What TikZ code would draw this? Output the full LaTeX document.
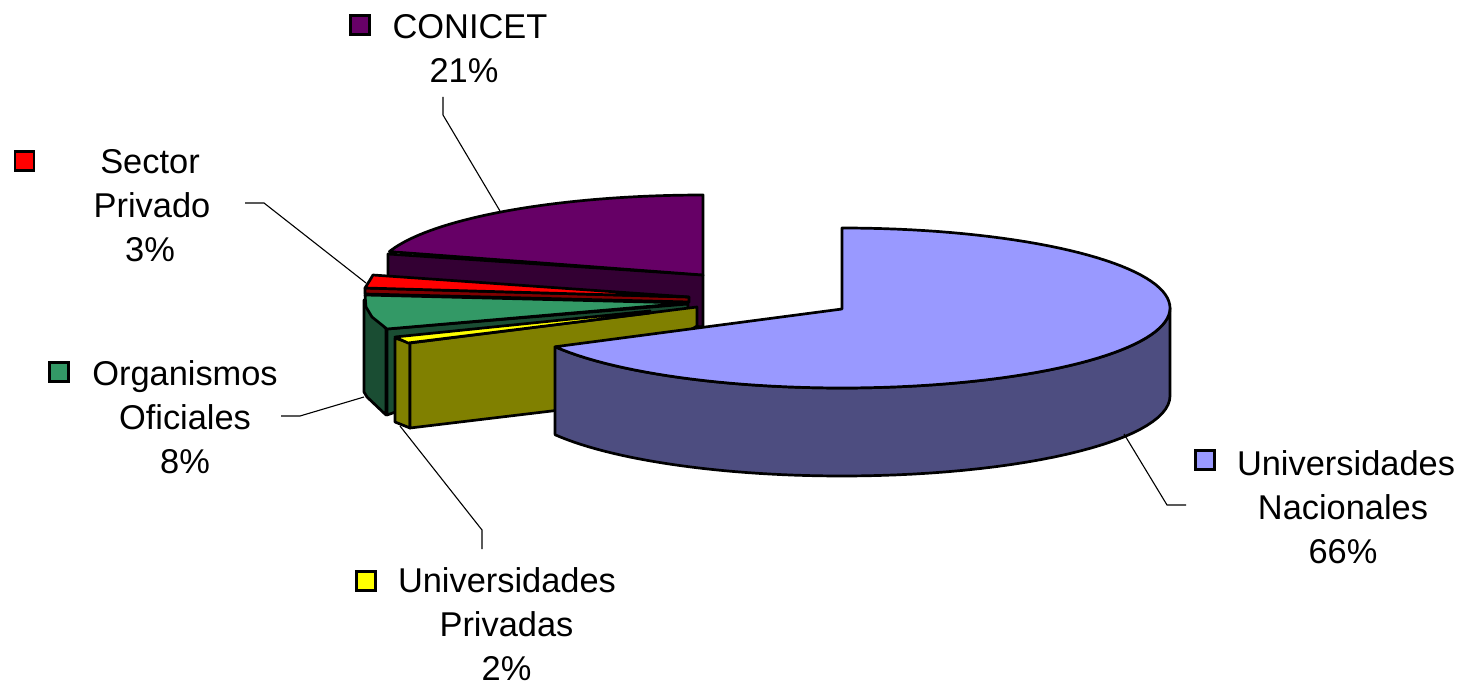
\documentclass[tikz,border=0pt]{standalone}
\usepackage{fontspec}
\setmainfont{Liberation Sans}
\definecolor{cpurple}{HTML}{660066}
\definecolor{cpurpled}{HTML}{330033}
\definecolor{cred}{HTML}{FF0000}
\definecolor{credd}{HTML}{800000}
\definecolor{cgreen}{HTML}{339966}
\definecolor{cgreend}{HTML}{1A4D33}
\definecolor{cyel}{HTML}{FFFF00}
\definecolor{colive}{HTML}{808000}
\definecolor{cblue}{HTML}{9999FF}
\definecolor{cblued}{HTML}{4D4D80}
\tikzset{
  face/.style={draw=black,line width=2.7pt,line join=round},
  legendkey/.style={draw=black,line width=2.4pt,minimum size=19pt,inner sep=0pt,outer sep=0pt},
  lab/.style={align=center,inner sep=0pt,font=\fontsize{34.4}{44}\selectfont},
  leader/.style={draw=black,line width=1.1pt}
}
\begin{document}
\begin{tikzpicture}[x=1pt,y=-1pt]
\useasboundingbox (0,0) rectangle (1463,684);
% CONICET
\path[face,fill=cpurpled] (388,254) -- (703,275) -- (703,327) -- (388,300) -- cycle;
\path[face,fill=cpurple] (703,275) -- (703,195)
  -- plot[domain=90:163,samples=40,variable=\t] ({703+328*cos(\t)},{275-80*sin(\t)}) -- cycle;
% Sector Privado
\path[face,fill=credd] (365,288) -- (689,297) -- (689,302) -- (365,294) -- cycle;
\path[face,fill=cred] (373,275) -- (370,280) -- (365,288) -- (689,297) -- cycle;
% Organismos Oficiales
\path[face,fill=cgreend] (387,329) -- (688,304) -- (688,310) -- (387,415) -- cycle;
\path[face,fill=cgreend] (364,300) -- (364,392) -- (367,397) -- (386,415) -- (386,329) -- cycle;
\path[face,fill=cgreen] (365,295) -- (366,307) -- (372,317) -- (387,329) -- (688,303) -- cycle;
% Universidades Privadas
\path[face,fill=colive] (395,338) -- (395,422) -- (410,428) -- (410,343) -- cycle;
\path[face,fill=colive] (410,343) -- (697,307) -- (697,326) -- (560,410) -- (410,428) -- cycle;
\path[face,fill=cyel] (395,337) -- (408,343) -- (650,313) -- (650,311) -- cycle;
% Universidades Nacionales
\path[face,fill=cblued] (555,347) -- (555,433)
  -- plot[domain=209:270,samples=30,variable=\t] ({842+328*cos(\t)},{396-80*sin(\t)})
  -- plot[domain=270:360,samples=30,variable=\t] ({842+328*cos(\t)},{396-80*sin(\t)})
  -- (1170,308)
  -- plot[domain=360:209,samples=60,variable=\t] ({842+328*cos(\t)},{308-80*sin(\t)}) -- cycle;
\path[face,fill=cblue] (842,309) -- (842,228)
  -- plot[domain=90:-151,samples=100,variable=\t] ({842+328*cos(\t)},{308-80*sin(\t)}) -- cycle;
% Labels
\node[lab] (conicet) at (470,49) {CONICET\\21\%\hspace*{12pt}};
\node[lab] (sector) at (150,206) {Sector\\\hspace*{4pt}Privado\\3\%};
\node[lab] (org) at (185,417) {Organismos\\Oficiales\\8\%};
\node[lab] (upriv) at (506.5,624) {\hspace*{1pt}Universidades\\Privadas\\2\%};
\node[lab] (unac) at (1343,507) {\hspace*{6pt}Universidades\\Nacionales\\66\%};
% Legend keys
\node[legendkey,fill=cpurple] (kconicet) at (360,25) {};
\node[legendkey,fill=cred] (ksector) at (24.5,161) {};
\node[legendkey,fill=cgreen] (korg) at (59,372) {};
\node[legendkey,fill=cyel] (kupriv) at (366,581) {};
\node[legendkey,fill=cblue] (kunac) at (1205,460) {};
% Leaders
\coordinate (pconicet) at (500,211);
\coordinate (psector) at (366,283);
\coordinate (porg) at (364,397);
\coordinate (pupriv) at (400,426);
\coordinate (punac) at (1124,434);
\draw[leader] (443,97) -- (443,115) -- (pconicet);
\draw[leader] (245,203) -- (264,203) -- (psector);
\draw[leader] (281,416) -- (300,416) -- (porg);
\draw[leader] (482,549) -- (482,530) -- (pupriv);
\draw[leader] (1186,505) -- (1167,505) -- (punac);
\end{tikzpicture}
\end{document}
